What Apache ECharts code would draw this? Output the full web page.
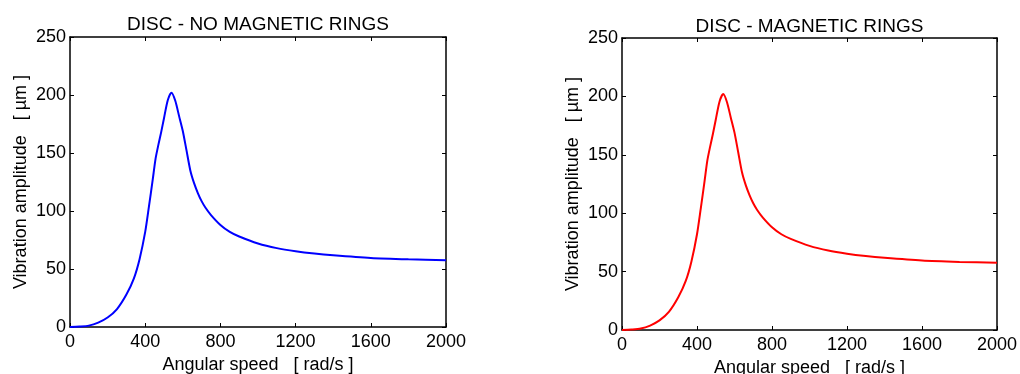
<!DOCTYPE html>
<html>
<head>
<meta charset="utf-8">
<script src="https://cdn.jsdelivr.net/npm/echarts@6/dist/echarts.min.js"></script>
<style>html,body{margin:0;padding:0;background:#fff}#c{width:1020px;height:374px}</style>
</head>
<body>
<div id="c"></div>
<script>
const titles = ['DISC - NO MAGNETIC RINGS', 'DISC - MAGNETIC RINGS'];
const xName = 'Angular speed   [ rad/s ]';
const yName = 'Vibration amplitude   [ \u00b5m ]';
const speed = [0, 50, 100, 150, 200, 250, 300, 340, 370, 400, 420, 440, 455, 470, 485, 500, 520, 540, 560, 580, 600, 620, 640, 660, 680, 700, 720, 750, 800, 850, 900, 1000, 1100, 1200, 1300, 1400, 1600, 1800, 2000];
const ampNoRings = [0, 0.4, 1.2, 3.8, 8.2, 15.5, 28, 42, 58.5, 82, 104, 127, 145, 157, 168, 180, 195.5, 202, 195, 182, 169, 152, 135, 124, 115.5, 108.5, 103, 96.5, 88, 82, 78, 72, 68, 65.3, 63.3, 61.8, 59.5, 58.3, 57.5];
const ampRings = [0, 0.4, 1.2, 3.8, 8.2, 15.5, 28, 42, 58.5, 82, 104, 127, 145, 157, 168, 180, 195.5, 202, 195, 182, 169, 152, 135, 124, 115.5, 108.5, 103, 96.5, 88, 82, 78, 72, 68, 65.3, 63.3, 61.8, 59.5, 58.3, 57.5];

const FONT = 'Liberation Sans, Arial, sans-serif';
const grids = [
  {left: 70, right: 574, top: 37, bottom: 47, outerBoundsMode: 'none', containLabel: false},
  {left: 622, right: 23, top: 38, bottom: 44, outerBoundsMode: 'none', containLabel: false}
];
const colors = ['#0000ff', '#ff0000'];
const datasets = [ampNoRings, ampRings];

const xAxes = [], yAxes = [], series = [], title = [];
grids.forEach((g, i) => {
  const cx = g.left + (1020 - g.left - g.right) / 2 - 5;
  title.push({text: titles[i], left: cx, top: 10 + i * 2, textAlign: 'center',
    textStyle: {fontFamily: FONT, fontSize: 19, fontWeight: 'normal', color: '#000'}});
  const baseLine = {show: true, onZero: false, lineStyle: {color: '#000', width: 1.5}};
  const tick = {show: true, inside: true, length: 4, lineStyle: {color: '#000', width: 1}};
  const fmt = v => String(v);
  xAxes.push({gridIndex: i, type: 'value', min: 0, max: 2000, interval: 400, position: 'bottom',
    axisLine: baseLine, axisTick: tick, splitLine: {show: false},
    axisLabel: {fontFamily: FONT, fontSize: 18, color: '#000', margin: 6, formatter: fmt},
    name: xName, nameLocation: 'middle', nameGap: 27,
    nameTextStyle: {fontFamily: FONT, fontSize: 18, color: '#000'}});
  xAxes.push({gridIndex: i, type: 'value', min: 0, max: 2000, interval: 400, position: 'top',
    axisLine: baseLine, axisTick: tick, splitLine: {show: false}, axisLabel: {show: false}});
  yAxes.push({gridIndex: i, type: 'value', min: 0, max: 250, interval: 50, position: 'left',
    axisLine: baseLine, axisTick: tick, splitLine: {show: false},
    axisLabel: {fontFamily: FONT, fontSize: 18, color: '#000', margin: 4, formatter: fmt},
    name: yName, nameLocation: 'middle', nameGap: 40, nameRotate: 90,
    nameTextStyle: {fontFamily: FONT, fontSize: 18, color: '#000'}});
  yAxes.push({gridIndex: i, type: 'value', min: 0, max: 250, interval: 50, position: 'right',
    axisLine: baseLine, axisTick: tick, splitLine: {show: false}, axisLabel: {show: false}});
  series.push({type: 'line', xAxisIndex: i * 2, yAxisIndex: i * 2, showSymbol: false, smooth: 0.25,
    lineStyle: {color: colors[i], width: 2}, itemStyle: {color: colors[i]},
    data: speed.map((s, k) => [s, datasets[i][k]]), animation: false});
});

const chart = echarts.init(document.getElementById('c'), null, {renderer: 'canvas'});
chart.setOption({backgroundColor: '#fff', animation: false, title, grid: grids, xAxis: xAxes, yAxis: yAxes, series});
</script>
</body>
</html>
